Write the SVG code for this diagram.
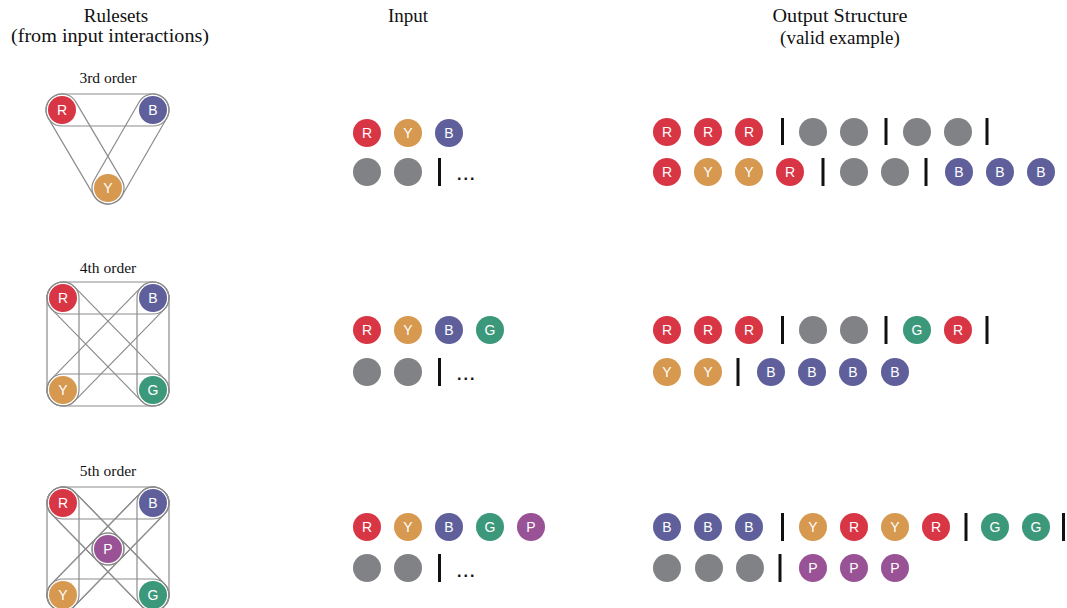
<svg xmlns="http://www.w3.org/2000/svg" width="1067" height="608" viewBox="0 0 1067 608">
<style>
.hd{font-family:"Liberation Serif","Times New Roman",serif;font-size:19px;fill:#111;text-anchor:middle}
.ord{font-family:"Liberation Serif","Times New Roman",serif;font-size:15.5px;fill:#111;text-anchor:middle}
.cap{fill:none;stroke:#8c8c8c;stroke-width:1.2}
.lbl{fill:#fff;font-family:"Liberation Sans",Arial,sans-serif;font-size:14px;text-anchor:middle}
.R{fill:#d83545}.Y{fill:#d6994f}.B{fill:#5f5f9b}.G{fill:#3b987a}.P{fill:#985295}.K{fill:#818285}
.bar{stroke:#111;stroke-width:3}
.dots{font-family:"Liberation Sans",Arial,sans-serif;font-size:16px;font-weight:bold;fill:#111;letter-spacing:2px}
</style>
<defs>
<circle id="c" r="14"/>
</defs>
<g id="headers">
<text class="hd" x="116" y="22">Rulesets</text>
<text class="hd" x="110" y="42" textLength="198" lengthAdjust="spacingAndGlyphs">(from input interactions)</text>
<text class="hd" x="408" y="22">Input</text>
<text class="hd" x="840" y="22" textLength="135" lengthAdjust="spacingAndGlyphs">Output Structure</text>
<text class="hd" x="840" y="44">(valid example)</text>
<text class="ord" x="108" y="83">3rd order</text>
<text class="ord" x="108" y="273">4th order</text>
<text class="ord" x="108" y="476">5th order</text>
</g>
<g id="connectors">
<g transform="translate(62,110) rotate(0)"><rect class="cap" x="-16" y="-16" width="123" height="32" rx="16"/></g>
<g transform="translate(62,110) rotate(59.47)"><rect class="cap" x="-16" y="-16" width="122.55" height="32" rx="16"/></g>
<g transform="translate(153,110) rotate(119.98)"><rect class="cap" x="-16" y="-16" width="122.05" height="32" rx="16"/></g>
<g transform="translate(63,298) rotate(0)"><rect class="cap" x="-16" y="-16" width="122" height="32" rx="16"/></g>
<g transform="translate(63,390) rotate(0)"><rect class="cap" x="-16" y="-16" width="122" height="32" rx="16"/></g>
<g transform="translate(63,298) rotate(90)"><rect class="cap" x="-16" y="-16" width="124" height="32" rx="16"/></g>
<g transform="translate(153,298) rotate(90)"><rect class="cap" x="-16" y="-16" width="124" height="32" rx="16"/></g>
<g transform="translate(63,298) rotate(45.63)"><rect class="cap" x="-16" y="-16" width="160.7" height="32" rx="16"/></g>
<g transform="translate(153,298) rotate(134.37)"><rect class="cap" x="-16" y="-16" width="160.7" height="32" rx="16"/></g>
<g transform="translate(63,503) rotate(0)"><rect class="cap" x="-16" y="-16" width="122" height="32" rx="16"/></g>
<g transform="translate(63,595) rotate(0)"><rect class="cap" x="-16" y="-16" width="122" height="32" rx="16"/></g>
<g transform="translate(63,503) rotate(90)"><rect class="cap" x="-16" y="-16" width="124" height="32" rx="16"/></g>
<g transform="translate(153,503) rotate(90)"><rect class="cap" x="-16" y="-16" width="124" height="32" rx="16"/></g>
<g transform="translate(63,503) rotate(45.63)"><rect class="cap" x="-16" y="-16" width="160.7" height="32" rx="16"/></g>
<g transform="translate(153,503) rotate(134.37)"><rect class="cap" x="-16" y="-16" width="160.7" height="32" rx="16"/></g>
<g transform="translate(63,503) rotate(45.63)"><rect class="cap" x="-16" y="-16" width="96.35" height="32" rx="16"/></g>
<g transform="translate(108,549) rotate(45.63)"><rect class="cap" x="-16" y="-16" width="96.35" height="32" rx="16"/></g>
<g transform="translate(153,503) rotate(134.37)"><rect class="cap" x="-16" y="-16" width="96.35" height="32" rx="16"/></g>
<g transform="translate(108,549) rotate(134.37)"><rect class="cap" x="-16" y="-16" width="96.35" height="32" rx="16"/></g>
</g>
<g id="ruleset3">
<g id="r3-R"><use href="#c" x="62" y="110" class="R"/><text class="lbl" x="62" y="115">R</text></g>
<g id="r3-B"><use href="#c" x="153" y="110" class="B"/><text class="lbl" x="153" y="115">B</text></g>
<g id="r3-Y"><use href="#c" x="108" y="188" class="Y"/><text class="lbl" x="108" y="193">Y</text></g>
</g>
<g id="ruleset4">
<g id="r4-R"><use href="#c" x="63" y="298" class="R"/><text class="lbl" x="63" y="303">R</text></g>
<g id="r4-B"><use href="#c" x="153" y="298" class="B"/><text class="lbl" x="153" y="303">B</text></g>
<g id="r4-Y"><use href="#c" x="63" y="390" class="Y"/><text class="lbl" x="63" y="395">Y</text></g>
<g id="r4-G"><use href="#c" x="153" y="390" class="G"/><text class="lbl" x="153" y="395">G</text></g>
</g>
<g id="ruleset5">
<g id="r5-R"><use href="#c" x="63" y="503" class="R"/><text class="lbl" x="63" y="508">R</text></g>
<g id="r5-B"><use href="#c" x="153" y="503" class="B"/><text class="lbl" x="153" y="508">B</text></g>
<g id="r5-P"><use href="#c" x="108" y="549" class="P"/><text class="lbl" x="108" y="554">P</text></g>
<g id="r5-Y"><use href="#c" x="63" y="595" class="Y"/><text class="lbl" x="63" y="600">Y</text></g>
<g id="r5-G"><use href="#c" x="153" y="595" class="G"/><text class="lbl" x="153" y="600">G</text></g>
</g>
<g id="input3">
<use href="#c" x="367" y="133" class="R"/><text class="lbl" x="367" y="138">R</text>
<use href="#c" x="408" y="133" class="Y"/><text class="lbl" x="408" y="138">Y</text>
<use href="#c" x="449" y="133" class="B"/><text class="lbl" x="449" y="138">B</text>
<use href="#c" x="367" y="172" class="K"/>
<use href="#c" x="408" y="172" class="K"/>
<line class="bar" x1="439.5" y1="158" x2="439.5" y2="186"/>
<text class="dots" x="457" y="180">...</text>
</g>
<g id="output3">
<use href="#c" x="667" y="132" class="R"/><text class="lbl" x="667" y="137">R</text>
<use href="#c" x="708" y="132" class="R"/><text class="lbl" x="708" y="137">R</text>
<use href="#c" x="749" y="132" class="R"/><text class="lbl" x="749" y="137">R</text>
<line class="bar" x1="782.5" y1="118" x2="782.5" y2="145"/>
<use href="#c" x="813" y="132" class="K"/>
<use href="#c" x="854" y="132" class="K"/>
<line class="bar" x1="886" y1="118" x2="886" y2="145"/>
<use href="#c" x="917" y="132" class="K"/>
<use href="#c" x="958" y="132" class="K"/>
<line class="bar" x1="987" y1="118" x2="987" y2="145"/>
<use href="#c" x="667" y="172" class="R"/><text class="lbl" x="667" y="177">R</text>
<use href="#c" x="708" y="172" class="Y"/><text class="lbl" x="708" y="177">Y</text>
<use href="#c" x="749" y="172" class="Y"/><text class="lbl" x="749" y="177">Y</text>
<use href="#c" x="790" y="172" class="R"/><text class="lbl" x="790" y="177">R</text>
<line class="bar" x1="823" y1="158" x2="823" y2="186"/>
<use href="#c" x="854" y="172" class="K"/>
<use href="#c" x="895" y="172" class="K"/>
<line class="bar" x1="926" y1="158" x2="926" y2="186"/>
<use href="#c" x="959" y="172" class="B"/><text class="lbl" x="959" y="177">B</text>
<use href="#c" x="1000" y="172" class="B"/><text class="lbl" x="1000" y="177">B</text>
<use href="#c" x="1041" y="172" class="B"/><text class="lbl" x="1041" y="177">B</text>
</g>
<g id="input4">
<use href="#c" x="367" y="330" class="R"/><text class="lbl" x="367" y="335">R</text>
<use href="#c" x="408" y="330" class="Y"/><text class="lbl" x="408" y="335">Y</text>
<use href="#c" x="449" y="330" class="B"/><text class="lbl" x="449" y="335">B</text>
<use href="#c" x="490" y="330" class="G"/><text class="lbl" x="490" y="335">G</text>
<use href="#c" x="367" y="372" class="K"/>
<use href="#c" x="408" y="372" class="K"/>
<line class="bar" x1="439.5" y1="358" x2="439.5" y2="386"/>
<text class="dots" x="457" y="380">...</text>
</g>
<g id="output4">
<use href="#c" x="667" y="330" class="R"/><text class="lbl" x="667" y="335">R</text>
<use href="#c" x="708" y="330" class="R"/><text class="lbl" x="708" y="335">R</text>
<use href="#c" x="749" y="330" class="R"/><text class="lbl" x="749" y="335">R</text>
<line class="bar" x1="782.5" y1="316" x2="782.5" y2="344"/>
<use href="#c" x="813" y="330" class="K"/>
<use href="#c" x="854" y="330" class="K"/>
<line class="bar" x1="886" y1="316" x2="886" y2="344"/>
<use href="#c" x="917" y="330" class="G"/><text class="lbl" x="917" y="335">G</text>
<use href="#c" x="958" y="330" class="R"/><text class="lbl" x="958" y="335">R</text>
<line class="bar" x1="987" y1="316" x2="987" y2="344"/>
<use href="#c" x="667" y="372" class="Y"/><text class="lbl" x="667" y="377">Y</text>
<use href="#c" x="708" y="372" class="Y"/><text class="lbl" x="708" y="377">Y</text>
<line class="bar" x1="738" y1="358" x2="738" y2="386"/>
<use href="#c" x="771" y="372" class="B"/><text class="lbl" x="771" y="377">B</text>
<use href="#c" x="812" y="372" class="B"/><text class="lbl" x="812" y="377">B</text>
<use href="#c" x="853" y="372" class="B"/><text class="lbl" x="853" y="377">B</text>
<use href="#c" x="895" y="372" class="B"/><text class="lbl" x="895" y="377">B</text>
</g>
<g id="input5">
<use href="#c" x="367" y="527" class="R"/><text class="lbl" x="367" y="532">R</text>
<use href="#c" x="408" y="527" class="Y"/><text class="lbl" x="408" y="532">Y</text>
<use href="#c" x="449" y="527" class="B"/><text class="lbl" x="449" y="532">B</text>
<use href="#c" x="490" y="527" class="G"/><text class="lbl" x="490" y="532">G</text>
<use href="#c" x="531" y="527" class="P"/><text class="lbl" x="531" y="532">P</text>
<use href="#c" x="367" y="568" class="K"/>
<use href="#c" x="408" y="568" class="K"/>
<line class="bar" x1="439.5" y1="554" x2="439.5" y2="582"/>
<text class="dots" x="457" y="577">...</text>
</g>
<g id="output5">
<use href="#c" x="667" y="527" class="B"/><text class="lbl" x="667" y="532">B</text>
<use href="#c" x="708" y="527" class="B"/><text class="lbl" x="708" y="532">B</text>
<use href="#c" x="749" y="527" class="B"/><text class="lbl" x="749" y="532">B</text>
<line class="bar" x1="782.5" y1="513" x2="782.5" y2="541"/>
<use href="#c" x="813" y="527" class="Y"/><text class="lbl" x="813" y="532">Y</text>
<use href="#c" x="854" y="527" class="R"/><text class="lbl" x="854" y="532">R</text>
<use href="#c" x="895" y="527" class="Y"/><text class="lbl" x="895" y="532">Y</text>
<use href="#c" x="936" y="527" class="R"/><text class="lbl" x="936" y="532">R</text>
<line class="bar" x1="966" y1="513" x2="966" y2="541"/>
<use href="#c" x="995" y="527" class="G"/><text class="lbl" x="995" y="532">G</text>
<use href="#c" x="1036" y="527" class="G"/><text class="lbl" x="1036" y="532">G</text>
<line class="bar" x1="1063.5" y1="513" x2="1063.5" y2="541"/>
<use href="#c" x="667" y="568" class="K"/>
<use href="#c" x="709" y="568" class="K"/>
<use href="#c" x="750" y="568" class="K"/>
<line class="bar" x1="780" y1="554" x2="780" y2="582"/>
<use href="#c" x="813" y="568" class="P"/><text class="lbl" x="813" y="573">P</text>
<use href="#c" x="854" y="568" class="P"/><text class="lbl" x="854" y="573">P</text>
<use href="#c" x="895" y="568" class="P"/><text class="lbl" x="895" y="573">P</text>
</g>
</svg>
